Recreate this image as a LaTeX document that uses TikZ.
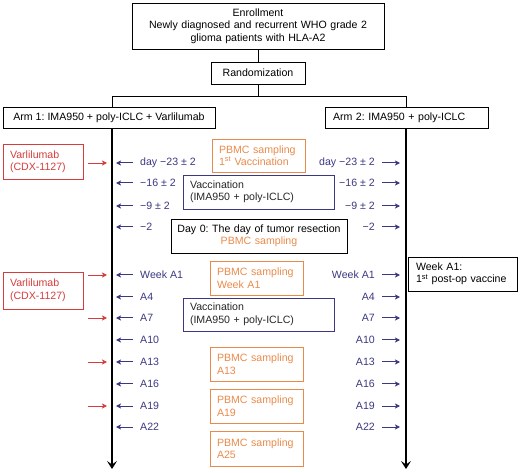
\documentclass[tikz,border=0pt]{standalone}
\usepackage{fontspec}
\setmainfont{Liberation Sans}
\usetikzlibrary{arrows.meta}
\definecolor{myred}{HTML}{D63C3C}
\definecolor{mynavy}{HTML}{3A3880}
\definecolor{myorange}{HTML}{E98A4A}
\frenchspacing
\begin{document}
\begin{tikzpicture}[x=1pt,y=-1pt,
  font=\fontsize{10.6}{12.5}\selectfont,
  box/.style={draw, line width=0.8pt, inner xsep=7pt, inner ysep=0pt},
  obox/.style={box, draw=myorange, text=myorange, text width=79pt, minimum height=34pt, align=left},
  nbox/.style={box, draw=mynavy, text=black!85, text width=137pt, minimum height=34pt, align=left},
  rbox/.style={box, draw=myred, text=myred, text width=66pt, minimum height=35pt, align=left},
  lab/.style={inner sep=0pt, text=mynavy},
  barrow/.style={mynavy, line width=1pt, -{Stealth[length=5pt,width=5pt,inset=1.2pt]}},
  rarrow/.style={myred, line width=0.9pt, -{Stealth[length=5pt,width=5pt,inset=1.2pt]}},
  tline/.style={line width=1.6pt, -{Stealth[length=8pt,width=10pt,inset=3.5pt]}},
  conn/.style={line width=1pt}]
\useasboundingbox (0,0) rectangle (520,473);

% top tree
\node[box, text width=238pt, minimum height=46pt, align=center] (enroll) at (258,26)
  {Enrollment\\Newly diagnosed and recurrent WHO grade 2\\glioma patients with HLA-A2};
\node[box, minimum width=94pt, minimum height=22pt] (rand) at (258,73) {Randomization};
\node[box, minimum width=212pt, minimum height=21pt] (arm1) at (109,117.5) {Arm 1: IMA950 + poly-ICLC + Varlilumab};
\node[box, inner xsep=8pt, text width=147pt, minimum height=21pt, align=left] (arm2) at (406.5,117.5) {Arm 2: IMA950 + poly-ICLC};

\coordinate (split) at (258,97);
\coordinate (L) at (112,97);
\coordinate (R) at (406,97);
\coordinate (Lend) at (112,469);
\coordinate (Rend) at (406,469);
\draw[conn] (enroll.south) -- (rand.north);
\draw[conn] (rand.south) -- (split);
\draw[conn] (arm1.north -| L) -- (L) -- (R) -- (arm2.north -| R);

% timelines
\draw[tline] (arm1.south -| L) -- (Lend);
\draw[tline] (arm2.south -| R) -- (Rend);

% Varlilumab boxes
\node[rbox] (v1) at (43,162) {Varlilumab\\(CDX-1127)};
\node[rbox, minimum height=37pt] (v2) at (43,290.5) {Varlilumab\\(CDX-1127)};

% center boxes
\node[obox, minimum height=33pt] (p1) at (258.5,155.5) {PBMC sampling\\1\textsuperscript{st} Vaccination};
\node[nbox] (vac1) at (258.5,192) {Vaccination\\(IMA950 + poly-ICLC)};
\node[box, inner xsep=3pt, text width=170pt, minimum height=34pt, align=center] (day0) at (259,236)
  {Day 0: The day of tumor resection\\\textcolor{myorange}{PBMC sampling}};
\node[obox] (p2) at (256.5,278) {PBMC sampling\\Week A1};
\node[nbox, minimum height=33pt] (vac2) at (258.5,314.5) {Vaccination\\(IMA950 + poly-ICLC)};
\node[obox] (p3) at (256.5,364) {PBMC sampling\\A13};
\node[obox] (p4) at (256.5,406) {PBMC sampling\\A19};
\node[obox, minimum height=35pt] (p5) at (256.5,448.5) {PBMC sampling\\A25};

% right box
\node[box, inner xsep=8pt, text width=93pt, minimum height=34pt, align=left] (wk) at (462.5,274)
  {Week A1:\\1\textsuperscript{st} post-op vaccine};

% rows
\foreach \y/\lbl [count=\i] in {163/day −23 ± 2, 183/−16 ± 2, 206/−9 ± 2, 227/−2,
    275/Week A1, 297/A4, 318/A7, 340/A10, 362/A13, 384/A16, 406/A19, 427/A22} {
  \node[lab, anchor=west] (ll\i) at (140,\y) {\lbl};
  \node[lab, anchor=east] (rl\i) at (375,\y) {\lbl};
  \coordinate (lt\i) at (116,\y);
  \coordinate (rt\i) at (400,\y);
  \draw[barrow] ([xshift=-7pt]ll\i.west) -- (lt\i);
  \draw[barrow] ([xshift=7pt]rl\i.east) -- (rt\i);
}

% red arrows
\coordinate (ra1) at (107,163);
\coordinate (ra2) at (107,275);
\draw[rarrow] (v1.east |- ra1) ++(5,0) -- (ra1);
\draw[rarrow] (v2.east |- ra2) ++(5,0) -- (ra2);
\foreach \y [count=\j] in {318,362,406} {
  \coordinate (rs\j) at (88,\y);
  \coordinate (re\j) at (107,\y);
  \draw[rarrow] (rs\j) -- (re\j);
}
\end{tikzpicture}
\end{document}
